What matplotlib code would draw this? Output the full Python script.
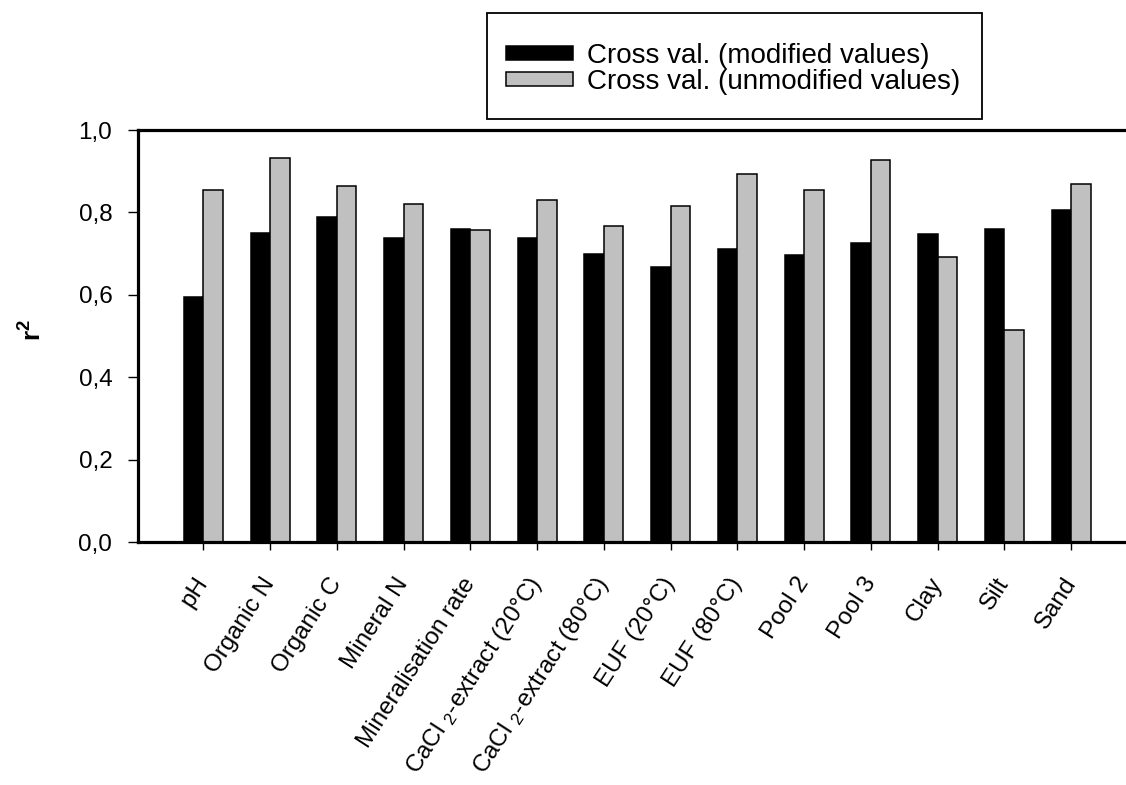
import numpy as np
import matplotlib.pyplot as plt
import matplotlib.transforms as mtransforms
from matplotlib.patches import Rectangle

plt.rcParams['font.family'] = ['Liberation Sans', 'DejaVu Sans']
plt.rcParams['mathtext.fontset'] = 'custom'
plt.rcParams['mathtext.rm'] = 'Liberation Sans'
plt.rcParams['mathtext.it'] = 'Liberation Sans'
plt.rcParams['mathtext.bf'] = 'Liberation Sans:bold'

categories = ["pH", "Organic N", "Organic C", "Mineral N", "Mineralisation rate",
              "CaCl $_2$-extract (20°C)", "CaCl $_2$-extract (80°C)",
              "EUF (20°C)", "EUF (80°C)", "Pool 2", "Pool 3", "Clay", "Silt", "Sand"]
modified = [0.594, 0.749, 0.788, 0.739, 0.759, 0.739, 0.700,
            0.667, 0.710, 0.696, 0.725, 0.748, 0.759, 0.807]
unmodified = [0.855, 0.931, 0.864, 0.821, 0.758, 0.830, 0.768,
              0.815, 0.894, 0.854, 0.927, 0.691, 0.515, 0.870]
yticks = [0.0, 0.2, 0.4, 0.6, 0.8, 1.0]
ytick_labels = ["0,0", "0,2", "0,4", "0,6", "0,8", "1,0"]

W, H = 1126, 785
fig = plt.figure(figsize=(W / 100, H / 100), dpi=100)
ax = fig.add_axes([138 / W, 243 / H, 998 / W, 412 / H])

x = np.arange(len(categories))
bw = 0.292
b1 = ax.bar(x - bw / 2, modified, bw, color='black', edgecolor='black', linewidth=1.1,
            label="Cross val. (modified values)")
b2 = ax.bar(x + bw / 2, unmodified, bw, color='#c0c0c0', edgecolor='black', linewidth=1.1,
            label="Cross val. (unmodified values)")

ax.set_xlim(-0.978, 13.97)
ax.set_ylim(0, 1.0)
ax.set_yticks(yticks)
ax.set_yticklabels(ytick_labels, fontsize=17.5)
ax.set_xticks(x)
ax.set_xticklabels(categories, fontsize=17.5, rotation=57, ha='right', va='center',
                   rotation_mode='anchor')
offset = mtransforms.ScaledTranslation(10 / 100, 0, fig.dpi_scale_trans)
for lab in ax.get_xticklabels():
    lab.set_transform(lab.get_transform() + offset)

ax.tick_params(axis='y', direction='out', length=7.5, width=1, pad=11)
ax.tick_params(axis='x', direction='out', length=6, width=1, pad=21)
for s in ['left', 'bottom', 'top']:
    ax.spines[s].set_linewidth(2.3)
ax.spines['right'].set_visible(False)

fig.text(33 / W, 1 - 330 / H, r'$\mathbf{r^2}$', rotation=90, fontsize=19,
         ha='center', va='center')

fig.patches.append(Rectangle((487 / W, 1 - 119 / H), (982 - 487) / W, (119 - 13) / H,
                             transform=fig.transFigure, fill=False, lw=1.3, ec='black'))
fig.legend(handles=[b1, b2], loc='upper left', bbox_to_anchor=(506 / W, 1 - 43 / H),
           frameon=False, fontsize=20, handlelength=2.4, handleheight=0.42,
           handletextpad=0.5, labelspacing=0.0, borderpad=0, borderaxespad=0)

fig.savefig('out.png', dpi=100)
